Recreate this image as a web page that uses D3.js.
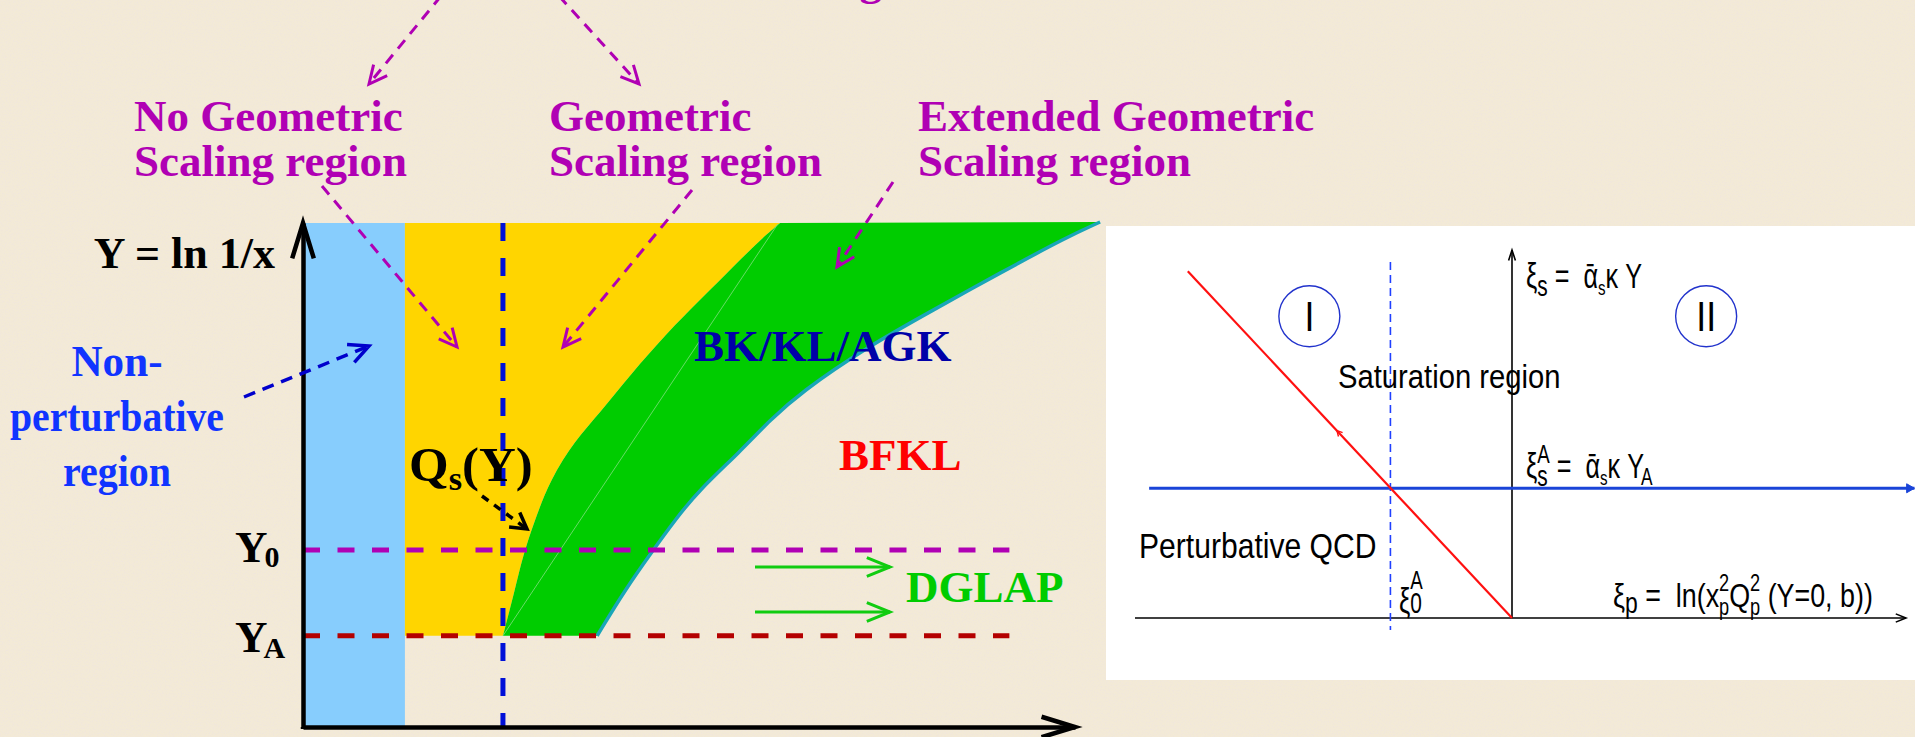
<!DOCTYPE html>
<html><head><meta charset="utf-8">
<script src="https://cdn.jsdelivr.net/npm/d3@7/dist/d3.min.js"></script>
<style>
html,body{margin:0;padding:0;background:#f3ead6;overflow:hidden}
svg{display:block}
</style></head><body>
<svg id="fig" width="1915" height="737"></svg>
<script>
// ---------- left panel: regions in the (ln Q^2, Y) plane ----------
const xDomain = [0, 20];          // ln Q^2, arbitrary units
const yDomain = [0, 10];          // Y = ln 1/x
const bandEdge = 2.64;            // right edge of the non-perturbative band
const qsStart = 5.18;             // Q_s(Y) at Y = Y_A
const Y0 = 3.51;
const YA = 1.81;
const refLineEnd = 18.3;          // end of the Y0 / YA reference lines
// saturation line Q_s(Y): boundary between geometric scaling and BK/KL/AGK
const satLine = [[5.18,1.81],[5.49,2.72],[5.70,3.41],[6.01,4.11],[6.40,4.90],[7.05,5.69],[7.69,6.23],[8.47,6.98],[9.43,7.82],[10.28,8.47],[11.14,9.13],[11.84,9.66],[12.36,10.0]];
// outer boundary of the extended geometric scaling region
const extLine = [[7.62,1.81],[8.34,2.72],[9.07,3.51],[9.64,4.11],[10.26,4.70],[11.32,5.46],[12.10,6.09],[12.88,6.63],[14.61,7.54],[16.32,8.27],[18.06,9.01],[19.79,9.72],[20.65,10.02]];
const straightQs = [[5.18,1.81],[12.30,9.98]];

const topLabels = [["No Geometric","Scaling region"],["Geometric","Scaling region"],["Extended Geometric","Scaling region"]];
const npLabel = ["Non-","perturbative","region"];

// ---------- right panel: (xi_p, xi_s) plane ----------
const xpDomain = [-4, 4];
const xsDomain = [0, 4];
const xpAxisEnd = 4.18;
const xsAxisEnd = 4.0;
const xiSA = 1.41;                // xi_s^A
const xi0A = -1.29;               // xi_0^A
const blueLineSpan = [-3.85, 4.27];
const dashSpan = [3.87, -0.13];
const critLine = [[-3.44,3.77],[0,0]];
const regionMarks = [{label:"I", xp:-2.15, xs:3.28},{label:"II", xp:2.06, xs:3.28}];

const svg = d3.select("#fig");
const defs = svg.append("defs");
const grain = defs.append("filter").attr("id","grain").attr("x",0).attr("y",0).attr("width","100%").attr("height","100%");
grain.append("feTurbulence").attr("type","fractalNoise").attr("baseFrequency",0.75).attr("numOctaves",3).attr("seed",7);
grain.append("feColorMatrix").attr("type","matrix")
  .attr("values","0 0 0 0 0.86  0 0 0 0 0.78  0 0 0 0 0.76  2.4 0 0 0 -1.0");

svg.append("rect").attr("width",1915).attr("height",737).attr("fill","#f3ead6");
svg.append("rect").attr("width",1915).attr("height",737).attr("filter","url(#grain)").attr("opacity",0.6);

const x = d3.scaleLinear().domain(xDomain).range([303, 1075]);
const y = d3.scaleLinear().domain(yDomain).range([727, 223]);
const line = d3.line().x(d => x(d[0])).y(d => y(d[1])).curve(d3.curveBasis);

const L = svg.append("g");
const serif = "'Liberation Serif','Times New Roman',serif";
const sans = "'Liberation Sans',Arial,Helvetica,sans-serif";

// non-perturbative band
L.append("rect").attr("x", x(0)).attr("y", y(yDomain[1]))
  .attr("width", x(bandEdge) - x(0)).attr("height", y(0) - y(yDomain[1]))
  .attr("fill", "#87cdfd");

// geometric scaling region (yellow)
const satRev = line(satLine.slice().reverse());
L.append("path")
  .attr("d", `M${x(bandEdge)},${y(YA)}L${x(bandEdge)},${y(yDomain[1])}L` + satRev.slice(1) + "Z")
  .attr("fill", "#ffd500");

// extended geometric scaling region (green)
L.append("path")
  .attr("d", line(satLine) + "L" + line(extLine.slice().reverse()).slice(1) + "Z")
  .attr("fill", "#00cc00");
L.append("path").attr("d", line(extLine)).attr("fill","none")
  .attr("stroke","#1aa6b8").attr("stroke-width",3.5);
L.append("path").attr("d", d3.line().x(d=>x(d[0])).y(d=>y(d[1]))(straightQs))
  .attr("fill","none").attr("stroke","#7fe07f").attr("stroke-width",0.8);

// Q_s vertical reference
L.append("line").attr("x1", x(qsStart)).attr("x2", x(qsStart))
  .attr("y1", y(yDomain[1])).attr("y2", y(0))
  .attr("stroke","#0010d8").attr("stroke-width",5).attr("stroke-dasharray","18 17");

// Y0 and YA reference lines
L.append("line").attr("x1", x(0)).attr("x2", x(refLineEnd)).attr("y1", y(Y0)).attr("y2", y(Y0))
  .attr("stroke","#b000b4").attr("stroke-width",5).attr("stroke-dasharray","17 17.5");
L.append("line").attr("x1", x(0)).attr("x2", x(refLineEnd)).attr("y1", y(YA)).attr("y2", y(YA))
  .attr("stroke","#b40000").attr("stroke-width",5).attr("stroke-dasharray","17 17.5");

// axes
const yAxis = L.append("g").attr("transform", `translate(${x(0)},0)`)
  .call(d3.axisLeft(y).ticks(0).tickSizeOuter(0));
const xAxis = L.append("g").attr("transform", `translate(0,${y(0)})`)
  .call(d3.axisBottom(x).ticks(0).tickSizeOuter(0));
[yAxis, xAxis].forEach(a => a.select(".domain").attr("stroke","#000").attr("stroke-width",4.5));
L.append("line").attr("x1",x(0)).attr("x2",x(0)).attr("y1",y(0)).attr("y2",y(0)+2).attr("stroke","#000").attr("stroke-width",4.5);

function arrow(g, p1, p2, o) {
  const [x1,y1] = p1, [x2,y2] = p2;
  if (!o.noLine) g.append("line").attr("x1",x1).attr("y1",y1).attr("x2",x2).attr("y2",y2)
    .attr("stroke",o.color).attr("stroke-width",o.w).attr("stroke-dasharray",o.dash || null);
  const a = Math.atan2(y2-y1, x2-x1), h = o.head, th = o.ang*Math.PI/180;
  const pA = [x2 - h*Math.cos(a-th), y2 - h*Math.sin(a-th)];
  const pB = [x2 - h*Math.cos(a+th), y2 - h*Math.sin(a+th)];
  g.append("path").attr("d", `M${pA}L${x2},${y2}L${pB}` + (o.fill ? "Z" : ""))
    .attr("fill", o.fill ? o.color : "none").attr("stroke",o.color)
    .attr("stroke-width",o.hw || o.w).attr("stroke-linejoin","miter");
}
// axis arrow heads
arrow(L, [x(0), y(0)], [x(0), y(yDomain[1])], {color:"#000", w:4.5, head:37, ang:17, noLine:true});
arrow(L, [x(0), y(0)], [x(xDomain[1]), y(0)], {color:"#000", w:4.5, head:35, ang:17, noLine:true});

// text helpers
function txt(g, s, px, py, o) {
  const t = g.append("text").attr("x",px).attr("y",py).text(s)
    .attr("font-family", o.font || serif).attr("font-size", o.size)
    .attr("font-weight", o.weight || "bold").attr("fill", o.color || "#000");
  if (o.anchor) t.attr("text-anchor", o.anchor);
  if (o.len) t.attr("textLength", o.len).attr("lengthAdjust","spacingAndGlyphs");
  if (o.sx) t.attr("transform", `translate(${px},${py}) scale(${o.sx},1) translate(${-px},${-py})`);
  return t;
}
// lays out a formula piece by piece; a piece with "stack" puts sup/sub in one column
function formula(g, px, py, parts, o) {
  const f = g.append("g").attr("transform", `translate(${px},${py}) scale(${o.sx || 1},1)`);
  let cx = 0;
  parts.forEach(p => {
    const items = p.stack || [p];
    let w = 0;
    items.forEach(it => {
      const t = f.append("text").attr("x", cx + (it.dx || 0)).attr("y", it.dy || 0).text(it.t)
        .attr("font-family", o.font).attr("font-size", it.size || o.size)
        .attr("font-weight", o.weight || "normal").attr("fill", o.color || "#000")
        .style("white-space","pre");
      w = Math.max(w, t.node().getComputedTextLength() + (it.dx || 0));
    });
    cx += w + (p.gap || 0);
  });
}

// partial title at the top edge
txt(L, "Geometric Scaling", 882, -5, {size:45, color:"#b000b4", anchor:"end"});

// region labels
const topX = [134, 549, 918];
topLabels.forEach((lines, i) => {
  lines.forEach((s, j) => txt(L, s, topX[i], 131 + j*45, {size:45, color:"#b000b4"}));
});
const npLen = [91, 214, 108];
npLabel.forEach((s, j) => txt(L, s, 117, 376 + j*55, {size:45, color:"#1034ff", anchor:"middle", len:npLen[j]}));

txt(L, "Y = ln 1/x", 275, 268, {size:44, anchor:"end"});
formula(L, 235, y(Y0) + 12, [{t:"Y", size:45}, {t:"0", size:30, dy:5, dx:-3}], {font:serif, weight:"bold"});
formula(L, 235, y(YA) + 16, [{t:"Y", size:45}, {t:"A", size:30, dy:6, dx:-4}], {font:serif, weight:"bold"});
formula(L, 409, 481, [{t:"Q", size:49}, {t:"s", size:33, dy:9}, {t:"(Y)", size:49}], {font:serif, weight:"bold", sx:1.04});

txt(L, "BK/KL/AGK", 694, 361, {size:45, color:"#0000a8"});
txt(L, "BFKL", 839, 470, {size:45, color:"#ff0000"});
txt(L, "DGLAP", 906, 602, {size:45, color:"#00cc00"});

// pointer arrows
const mag = {color:"#b000b4", w:3, dash:"11 8", head:20, ang:26};
arrow(L, [441,-4], [369,84], mag);
arrow(L, [559,-4], [639,84], mag);
arrow(L, [322,186], [457,347], mag);
arrow(L, [692,190], [563,347], mag);
arrow(L, [893,182], [837,267], mag);
arrow(L, [244,397], [369,346], {color:"#0000cc", w:3.5, dash:"12 8", head:22, ang:26});
arrow(L, [482,496], [527,529], {color:"#000", w:3.5, dash:"8 7", head:18, ang:30});
arrow(L, [755,567], [890,567], {color:"#10cc10", w:3, head:25, ang:22});
arrow(L, [755,612], [890,612], {color:"#10cc10", w:3, head:25, ang:22});

// ---------- right panel ----------
const R = svg.append("g");
R.append("rect").attr("x",1106).attr("y",226).attr("width",809).attr("height",454).attr("fill","#fff");
const xp = d3.scaleLinear().domain(xpDomain).range([1135, 1889]);
const xs = d3.scaleLinear().domain(xsDomain).range([618, 250]);

// axes
R.append("line").attr("x1",xp(xpDomain[0])).attr("x2",xp(xpAxisEnd)).attr("y1",xs(0)).attr("y2",xs(0))
  .attr("stroke","#000").attr("stroke-width",1.6);
R.append("line").attr("x1",xp(0)).attr("x2",xp(0)).attr("y1",xs(0)).attr("y2",xs(xsAxisEnd))
  .attr("stroke","#000").attr("stroke-width",1.6);
arrow(R, [xp(0), xs(0)], [xp(xpAxisEnd), xs(0)], {color:"#000", w:1.6, head:11, ang:22, noLine:true});
arrow(R, [xp(0), xs(0)], [xp(0), xs(xsAxisEnd)], {color:"#000", w:1.6, head:11, ang:18, noLine:true});

// xi_0^A dashed line
R.append("line").attr("x1",xp(xi0A)).attr("x2",xp(xi0A)).attr("y1",xs(dashSpan[0])).attr("y2",xs(dashSpan[1]))
  .attr("stroke","#2040ff").attr("stroke-width",1.6).attr("stroke-dasharray","8 5");

// xi_s^A line
R.append("line").attr("x1",xp(blueLineSpan[0])).attr("x2",xp(blueLineSpan[1])).attr("y1",xs(xiSA)).attr("y2",xs(xiSA))
  .attr("stroke","#1a44d8").attr("stroke-width",3);
arrow(R, [xp(0), xs(xiSA)], [xp(blueLineSpan[1]), xs(xiSA)], {color:"#1a44d8", w:3, head:9, ang:30, noLine:true, fill:true, hw:1});

// critical line
R.append("line").attr("x1",xp(critLine[0][0])).attr("y1",xs(critLine[0][1]))
  .attr("x2",xp(critLine[1][0])).attr("y2",xs(critLine[1][1]))
  .attr("stroke","#ff1010").attr("stroke-width",2.2);
{
  const t = 0.54;
  const mx = xp(critLine[1][0] + (critLine[0][0]-critLine[1][0])*t);
  const my = xs(critLine[1][1] + (critLine[0][1]-critLine[1][1])*t);
  arrow(R, [xp(critLine[1][0]), xs(critLine[1][1])], [mx, my], {color:"#ff1010", w:1.4, head:6, ang:28, noLine:true});
}

// region markers
regionMarks.forEach(m => {
  R.append("circle").attr("cx",xp(m.xp)).attr("cy",xs(m.xs)).attr("r",30.5)
    .attr("fill","none").attr("stroke","#2233cc").attr("stroke-width",1.4);
  txt(R, m.label, xp(m.xp), xs(m.xs) + 15, {size:42, font:sans, weight:"normal", anchor:"middle", sx:0.85});
});

txt(R, "Saturation region", 1338, 388, {size:34, font:sans, weight:"normal", sx:0.86});
txt(R, "Perturbative QCD", 1139, 558, {size:35, font:sans, weight:"normal", sx:0.86});

const fs = {font:sans, size:35, sx:0.72};
formula(R, 1526, 288, [{t:"ξ"}, {t:"s", size:29, dy:8}, {t:" =  "}, {t:"ᾱ"}, {t:"s", size:21, dy:7}, {t:"κ Y"}], fs);
formula(R, 1526, 478, [{t:"ξ"}, {stack:[{t:"A", size:26, dy:-15},{t:"s", size:29, dy:8}]}, {t:" =  "}, {t:"ᾱ"}, {t:"s", size:21, dy:7}, {t:"κ Y"}, {t:"A", size:24, dy:7, dx:-4}], fs);
formula(R, 1399, 613, [{t:"ξ"}, {stack:[{t:"A", size:26, dy:-24},{t:"0", size:29, dy:0}]}], fs);
formula(R, 1613, 607, [{t:"ξ"}, {t:"p", size:29, dy:6}, {t:" =  ln(x"}, {stack:[{t:"2", size:23, dy:-16},{t:"p", size:23, dy:8}]}, {t:"Q"}, {stack:[{t:"2", size:23, dy:-16},{t:"p", size:23, dy:8}]}, {t:" (Y=0, b))"}], {font:sans, size:34, sx:0.79});
</script>
</body></html>
